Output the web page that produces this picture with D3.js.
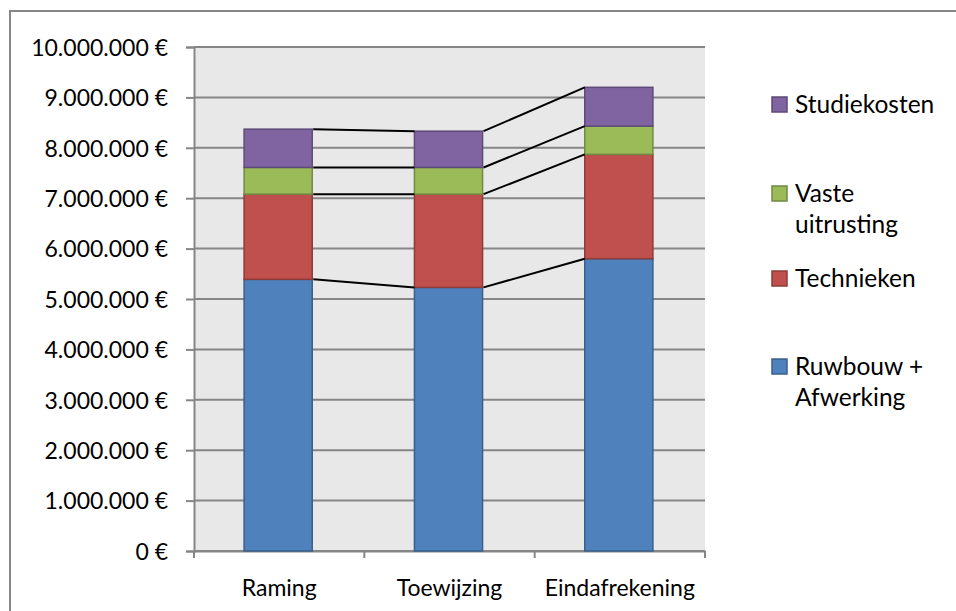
<!DOCTYPE html>
<html>
<head>
<meta charset="utf-8">
<script src="https://cdn.jsdelivr.net/npm/d3@7"></script>
<style>
  html, body { margin: 0; padding: 0; background: #fff; }
  svg { display: block; }
  text { font-family: Lato, "Open Sans", sans-serif; fill: #000; }
</style>
</head>
<body>
<svg id="chart" width="956" height="611"></svg>
<script>
// Project cost per stage, in euro
const categories = ["Raming", "Toewijzing", "Eindafrekening"];
const ruwbouw = [5390000, 5230000, 5800000];
const technieken = [1690000, 1850000, 2070000];
const vasteUitrusting = [530000, 530000, 560000];
const studiekosten = [760000, 720000, 770000];

const seriesKeys = ["ruwbouw", "technieken", "vaste", "studie"];
const seriesLabels = [["Ruwbouw +", "Afwerking"], ["Technieken"], ["Vaste", "uitrusting"], ["Studiekosten"]];
const fills = ["#4F81BD", "#C0504D", "#9BBB59", "#8064A2"];
const strokes = ["#3A5F8C", "#8E3B39", "#728A42", "#5E4A78"];
const yTicks = [0, 1000000, 2000000, 3000000, 4000000, 5000000, 6000000, 7000000, 8000000, 9000000, 10000000];

const rows = categories.map((c, i) => ({
  cat: c,
  ruwbouw: ruwbouw[i],
  technieken: technieken[i],
  vaste: vasteUitrusting[i],
  studie: studiekosten[i]
}));

const svg = d3.select("#chart");
const plot = { left: 194, right: 705, top: 47, bottom: 551 };

const x = d3.scaleBand().domain(categories)
  .range([plot.left, plot.right]).paddingInner(0.6).paddingOuter(0.3);
const y = d3.scaleLinear().domain([0, 10000000]).range([plot.bottom, plot.top]);

const locale = d3.formatLocale({ decimal: ",", thousands: ".", grouping: [3], currency: ["", " €"] });
const fmt = v => locale.format(",.0f")(v) + " €";

// outer chart frame
svg.append("rect").attr("x", 10).attr("y", 11).attr("width", 960).attr("height", 620)
  .attr("fill", "none").attr("stroke", "#868686").attr("stroke-width", 2);

// plot area
svg.append("rect").attr("x", plot.left).attr("y", plot.top)
  .attr("width", plot.right - plot.left).attr("height", plot.bottom - plot.top)
  .attr("fill", "#E8E8E8");

// horizontal gridlines
svg.append("g").selectAll("line").data(yTicks).join("line")
  .attr("x1", plot.left).attr("x2", plot.right)
  .attr("y1", d => y(d)).attr("y2", d => y(d))
  .attr("stroke", "#868686").attr("stroke-width", 2);

// value axis
const yAxis = svg.append("g").attr("transform", `translate(${plot.left},0)`)
  .call(d3.axisLeft(y).tickValues(yTicks).tickFormat(fmt).tickSize(8).tickPadding(18));
yAxis.select(".domain").attr("stroke", "#868686").attr("stroke-width", 2);
yAxis.selectAll(".tick line").attr("stroke", "#868686").attr("stroke-width", 2);
yAxis.selectAll(".tick text").attr("font-size", 23).attr("font-family", "Lato, sans-serif").attr("fill", "#000").attr("dy", "0.36em");

// category axis
const xAxis = svg.append("g").attr("transform", `translate(0,${plot.bottom})`)
  .call(d3.axisBottom(x).tickSize(0).tickPadding(29));
xAxis.select(".domain").attr("stroke", "#868686").attr("stroke-width", 2);
xAxis.selectAll(".tick text").attr("font-size", 23).attr("font-family", "Lato, sans-serif").attr("fill", "#000");
// category boundary ticks
const bounds = d3.range(categories.length + 1).map(i => plot.left + i * (plot.right - plot.left) / categories.length);
xAxis.append("g").selectAll("line").data(bounds).join("line")
  .attr("x1", d => d).attr("x2", d => d).attr("y1", 0).attr("y2", 7)
  .attr("stroke", "#868686").attr("stroke-width", 2);

// stacked bars
const stacked = d3.stack().keys(seriesKeys)(rows);
const bars = svg.append("g");
stacked.forEach((layer, si) => {
  bars.append("g").selectAll("rect").data(layer).join("rect")
    .attr("x", d => x(d.data.cat) - 1)
    .attr("width", x.bandwidth())
    .attr("y", d => y(d[1]))
    .attr("height", d => y(d[0]) - y(d[1]))
    .attr("fill", fills[si])
    .attr("stroke", strokes[si]).attr("stroke-width", 1.5);
});

// series lines between the tops of each segment
const lines = svg.append("g");
stacked.forEach(layer => {
  for (let i = 0; i < layer.length - 1; i++) {
    const a = layer[i], b = layer[i + 1];
    lines.append("line")
      .attr("x1", x(a.data.cat) + x.bandwidth()).attr("y1", y(a[1]))
      .attr("x2", x(b.data.cat) - 1).attr("y2", y(b[1]))
      .attr("stroke", "#000").attr("stroke-width", 2);
  }
});

// legend (top series first)
const legendY = [105, 194, 279, 367];
const legend = svg.append("g");
[3, 2, 1, 0].forEach((si, k) => {
  const g = legend.append("g").attr("transform", `translate(772,${legendY[k]})`);
  g.append("rect").attr("x", 0).attr("y", -8).attr("width", 15).attr("height", 15)
    .attr("fill", fills[si]).attr("stroke", strokes[si]).attr("stroke-width", 1.5);
  seriesLabels[si].forEach((t, j) => {
    g.append("text").attr("x", 23).attr("y", 8 + j * 31)
      .attr("font-size", 24.5).text(t);
  });
});
</script>
</body>
</html>
